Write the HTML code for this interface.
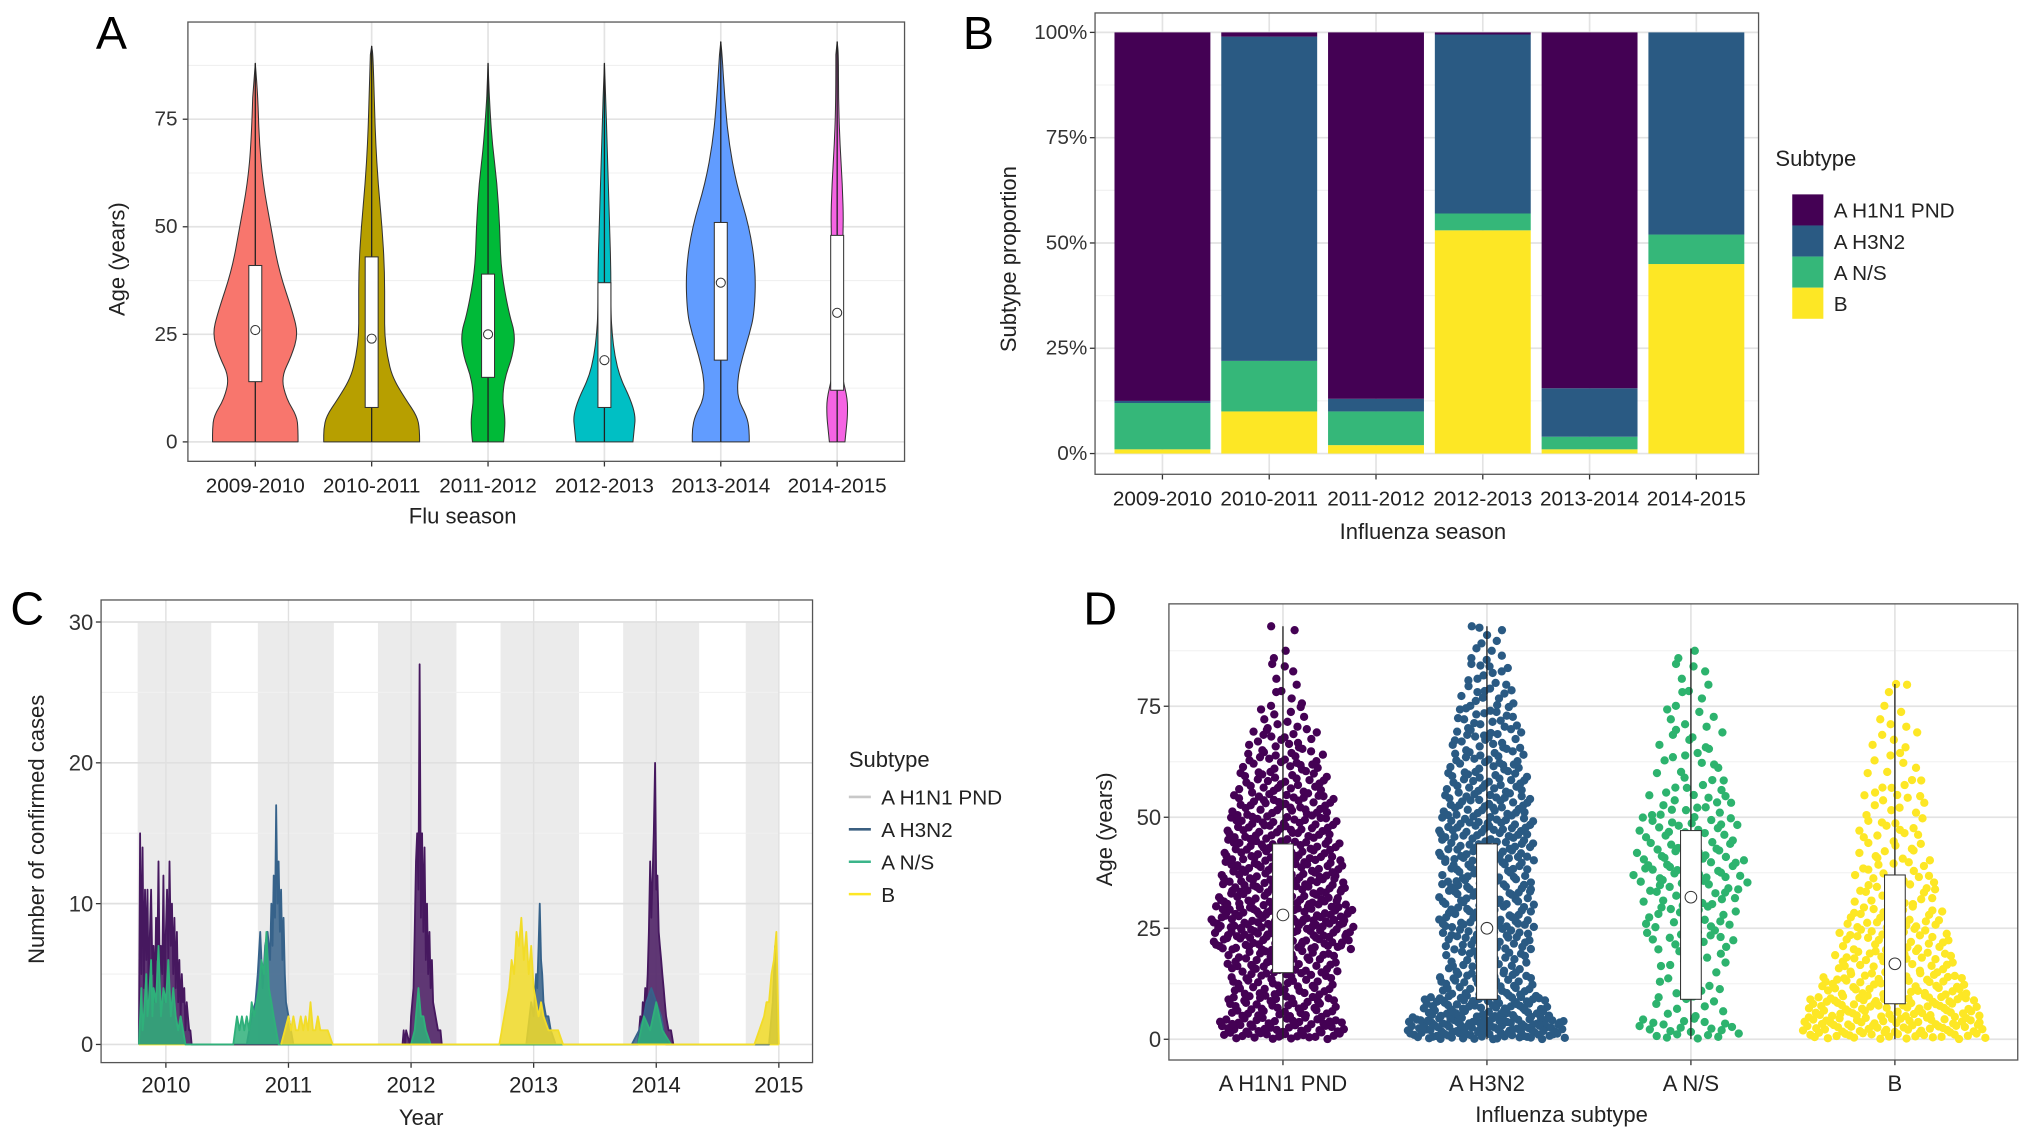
<!DOCTYPE html>
<html><head><meta charset="utf-8"><style>
html,body{margin:0;padding:0;background:#fff;}
svg{display:block;font-family:"Liberation Sans",Arial,sans-serif;}
</style></head><body>
<svg id="fig" width="2032" height="1141" viewBox="0 0 1568 880.5" preserveAspectRatio="none" xmlns="http://www.w3.org/2000/svg"></svg>
<script>
// ---------- Panel A data ----------
const seasonsA = ["2009-2010","2010-2011","2011-2012","2012-2013","2013-2014","2014-2015"];
const violinAges = [0,3,6,10,15,20,25,30,40,50,60,70,80,90];
const violinW1 = [33,33,32,24,20,28,33,29,18,12,6,3,2,0];
const violinW2 = [37,37,35,26,16,12,10,10,10,8,5,3,2,1];
const violinW3 = [12,13,13,11,13,19,21,16,10,9,7,3,1,0];
const violinW4 = [22,23,24,20,12,8,6,5,5,4,3,2,1,0];
const violinW5 = [22,22,20,13,13,17,22,26,27,22,12,6,3,1];
const violinW6 = [6,7,8,8,4,2,2,2,3,5,4,2,1,1];
const violinMax = [88,92,88,88,93,93];
const boxQ1A = [14,8,15,8,19,12];
const boxQ3A = [41,43,39,37,51,48];
const meanA = [26,24,25,19,37,30];
const colorsA = ["#F8766D","#B79F00","#00BA38","#00BFC4","#619CFF","#F564E3"];
const yTicksA = [0,25,50,75];

// ---------- Panel B data ----------
const seasonsB = ["2009-2010","2010-2011","2011-2012","2012-2013","2013-2014","2014-2015"];
const subtypes = ["A H1N1 PND","A H3N2","A N/S","B"];
const propB   = [0.01,0.10,0.02,0.53,0.01,0.45];
const propNS  = [0.11,0.12,0.08,0.04,0.03,0.07];
const propH3  = [0.005,0.77,0.03,0.425,0.115,0.48];
const propH1  = [0.875,0.01,0.87,0.005,0.845,0.0];
const yTicksB = ["0%","25%","50%","75%","100%"];
const subColors = ["#440154","#2A5A83","#35B779","#FDE725"];

// ---------- Panel C data ----------
const yearTicksC = [2010,2011,2012,2013,2014,2015];
const bandStart = [2009.77,2010.75,2011.73,2012.73,2013.73,2014.73];
const bandEnd   = [2010.37,2011.37,2012.37,2013.37,2014.35,2015.0];
const h1Dates = [2009.78,2009.79,2009.80,2009.81,2009.82,2009.83,2009.84,2009.85,2009.86,2009.87,2009.88,2009.89,2009.90,2009.91,2009.92,2009.93,2009.94,2009.95,2009.96,2009.97,2009.98,2009.99,2010.00,2010.01,2010.02,2010.03,2010.04,2010.05,2010.06,2010.07,2010.08,2010.09,2010.10,2010.11,2010.12,2010.13,2010.14,2010.15,2010.16,2010.17,2010.18,2010.19,2010.20,2010.21,
  2011.93,2011.94,2011.95,2011.96,2011.99,2012.00,2012.02,2012.03,2012.04,2012.05,2012.06,2012.07,2012.08,2012.09,2012.10,2012.11,2012.12,2012.13,2012.14,2012.15,2012.16,2012.17,2012.18,2012.20,2012.22,2012.24,2012.25,
  2013.85,2013.86,2013.87,2013.88,2013.89,2013.90,2013.91,2013.92,2013.93,2013.94,2013.95,2013.96,2013.97,2013.98,2013.99,2014.00,2014.01,2014.02,2014.03,2014.04,2014.05,2014.06,2014.07,2014.08,2014.10,2014.12,2014.14];
const h1Counts = [0,15,5,14,4,11,6,11,3,8,11,5,7,3,9,6,13,4,7,5,12,3,8,11,6,13,7,10,5,9,4,8,3,6,2,5,3,4,1,3,2,1,1,0,
  0,1,0,1,0,2,4,8,13,15,11,27,9,15,8,14,6,10,5,8,4,6,3,2,1,1,0,
  0,1,2,1,3,2,4,3,5,8,13,9,12,15,20,11,12,8,7,6,5,4,3,2,1,1,0];
const h3Dates = [2010.66,2010.70,2010.73,2010.75,2010.77,2010.79,2010.81,2010.83,2010.85,2010.86,2010.87,2010.88,2010.89,2010.90,2010.91,2010.92,2010.93,2010.94,2010.95,2010.96,2010.97,2010.98,2011.00,2011.02,2011.04,
  2012.94,2012.98,2013.00,2013.02,2013.03,2013.04,2013.05,2013.06,2013.07,2013.08,2013.10,2013.12,2013.14,2013.18,
  2013.80,2013.86,2013.90,2013.92,2013.96,2014.00,2014.04,2014.08,
  2014.92,2014.95,2014.97,2014.99];
const h3Counts = [0,2,3,5,8,4,7,8,6,10,7,12,9,17,10,13,8,11,6,9,5,3,2,1,0,
  0,3,2,5,4,7,10,6,5,3,2,2,1,0,
  0,1,2,3,4,3,2,0,
  0,3,7,0];
const nsDates = [2009.78,2009.80,2009.81,2009.82,2009.84,2009.85,2009.86,2009.88,2009.89,2009.90,2009.92,2009.94,2009.96,2009.98,2010.00,2010.02,2010.04,2010.06,2010.08,2010.10,2010.12,2010.16,
  2010.55,2010.58,2010.60,2010.62,2010.64,2010.66,2010.68,2010.70,2010.72,2010.74,2010.76,2010.78,2010.80,2010.82,2010.84,2010.86,2010.88,2010.92,
  2012.00,2012.03,2012.06,2012.08,2012.10,2012.12,2012.16,2013.85,2013.90,2013.95,2014.00,2014.05,2014.12];
const nsCounts = [0,4,1,2,5,2,3,6,2,4,3,7,2,4,3,6,2,4,2,1,2,0,
  0,2,1,2,1,2,1,3,2,3,4,6,5,8,4,3,2,0,
  0,1,4,2,2,1,0,0,2,1,3,1,0];
const bDates = [2010.94,2010.97,2011.00,2011.02,2011.04,2011.06,2011.08,2011.10,2011.12,2011.14,2011.16,2011.18,2011.20,2011.22,2011.24,2011.26,2011.28,2011.32,2011.36,
  2012.72,2012.76,2012.78,2012.80,2012.82,2012.84,2012.86,2012.88,2012.90,2012.92,2012.94,2012.96,2012.98,2013.00,2013.02,2013.04,2013.06,2013.08,2013.12,2013.16,2013.20,2013.24,
  2014.80,2014.84,2014.88,2014.90,2014.92,2014.94,2014.96,2014.98,2015.00];
const bCounts = [0,1,2,1,2,1,1,2,1,2,1,3,1,1,2,1,1,1,0,
  0,2,3,4,6,5,8,7,9,6,8,5,7,4,3,2,3,2,1,1,1,0,
  0,1,2,3,3,5,6,8,0];
const yTicksC = [0,10,20,30];

// ---------- Panel D data ----------
const subtypesD = ["A H1N1 PND","A H3N2","A N/S","B"];
const binsD = [0,5,10,15,20,25,30,35,40,45,50,55,60,65,70,75,80,85,90];
const countsH1 = [60,45,40,45,70,75,60,55,50,45,40,30,25,18,10,6,4,2,2];
const countsH3 = [110,70,40,30,35,40,40,35,40,40,35,30,25,22,18,14,10,7,4];
const countsNS = [22,10,8,10,15,18,20,25,22,20,15,10,8,8,6,5,4,2,0];
const countsB  = [80,70,50,35,30,25,18,15,12,12,10,8,6,5,4,3,1,0,0];
const q1D = [15,9,9,8], q3D = [44,44,47,37], meanD = [28,25,32,17], maxD = [93,93,88,80];
const yTicksD = [0,25,50,75];

const svg = document.getElementById('fig');
const NS = 'http://www.w3.org/2000/svg';
function mk(tag, attrs, parent, text){
  const e = document.createElementNS(NS, tag);
  for (const k in attrs) e.setAttribute(k, attrs[k]);
  if (text !== undefined) e.textContent = text;
  (parent||svg).appendChild(e);
  return e;
}
function grp(name){ const g = mk('g',{});   return g; }
function smoothPath(pts){
  let d='M'+pts[0][0].toFixed(1)+','+pts[0][1].toFixed(1);
  for(let i=1;i<pts.length-1;i++){
    const mx=(pts[i][0]+pts[i+1][0])/2, my=(pts[i][1]+pts[i+1][1])/2;
    d+='Q'+pts[i][0].toFixed(1)+','+pts[i][1].toFixed(1)+' '+mx.toFixed(1)+','+my.toFixed(1);
  }
  const l=pts[pts.length-1]; d+='L'+l[0].toFixed(1)+','+l[1].toFixed(1);
  return d;
}
function halton(i,b){let f=1,r=0;while(i>0){f/=b;r+=f*(i%b);i=Math.floor(i/b);}return r;}

// ================= Panel A =================
(function(){
  const g = grp('panel-a');
  const L=145,R=698,T=17,B=356;
  const y = v => 341 - v*(249/75);
  const xs = i => 197 + i*89.8;
  mk('rect',{x:L,y:T,width:R-L,height:B-T,fill:'#fff'},g);
  [12.5,37.5,62.5,87.5].forEach(v=>mk('line',{x1:L,x2:R,y1:y(v),y2:y(v),stroke:'#f0f0f0','stroke-width':0.8},g));
  yTicksA.forEach(v=>mk('line',{x1:L,x2:R,y1:y(v),y2:y(v),stroke:'#e3e3e3','stroke-width':1.3},g));
  seasonsA.forEach((s,i)=>mk('line',{x1:xs(i),x2:xs(i),y1:T,y2:B,stroke:'#e3e3e3','stroke-width':1.3},g));
  const widths=[violinW1,violinW2,violinW3,violinW4,violinW5,violinW6];
  seasonsA.forEach((s,i)=>{
    const cx=xs(i), w=widths[i], mx=violinMax[i];
    const ages=violinAges.map(a=>Math.min(a,mx));
    const right=[], left=[];
    for(let k=0;k<ages.length;k++){ if(ages[k]>=mx) break; right.push([cx+w[k], y(ages[k])]); }
    right.push([cx,y(mx)]);
    for(let k=right.length-2;k>=0;k--) left.push([2*cx-right[k][0], right[k][1]]);
    const d=smoothPath(right)+smoothPath(left).replace('M','L')+'Z';
    const v=mk('path',{d:d,fill:colorsA[i],stroke:'#333','stroke-width':0.8,'stroke-linejoin':'round'},g);
    
    
    mk('line',{x1:cx,x2:cx,y1:y(0),y2:y(mx),stroke:'#222','stroke-width':1},g);
    const b=mk('rect',{x:cx-5,y:y(boxQ3A[i]),width:10,height:y(boxQ1A[i])-y(boxQ3A[i]),fill:'#fff',stroke:'#333','stroke-width':0.8},g);
    
    
    mk('circle',{cx:cx,cy:y(meanA[i]),r:3.5,fill:'#fff',stroke:'#333','stroke-width':0.8},g);
    mk('line',{x1:cx,x2:cx,y1:B,y2:B+4,stroke:'#333'},g);
    const t=mk('text',{x:cx,y:380,'font-size':16,'text-anchor':'middle',fill:'#222'},g,s);
    
    
  });
  yTicksA.forEach(v=>{mk('line',{x1:L-4,x2:L,y1:y(v),y2:y(v),stroke:'#333'},g);
    mk('text',{x:L-8,y:y(v)+5,'font-size':16,'text-anchor':'end',fill:'#333'},g,String(v));});
  mk('rect',{x:L,y:T,width:R-L,height:B-T,fill:'none',stroke:'#555','stroke-width':1},g);
  const yt=mk('text',{x:0,y:0,'font-size':17,'text-anchor':'middle',fill:'#222',transform:'translate(96,200) rotate(-90)'},g,'Age (years)');
   
  const xt=mk('text',{x:357,y:404,'font-size':17,'text-anchor':'middle',fill:'#222'},g,'Flu season');
   
  mk('text',{x:74,y:38,'font-size':36,fill:'#000'},g,'A');
})();

// ================= Panel B =================
(function(){
  const g = grp('panel-b');
  const L=845,R=1357,T=10,B=366;
  const y = p => 350 - p*325;
  const xs = i => 897 + i*82.4;
  mk('rect',{x:L,y:T,width:R-L,height:B-T,fill:'#fff'},g);
  [0.125,0.375,0.625,0.875].forEach(v=>mk('line',{x1:L,x2:R,y1:y(v),y2:y(v),stroke:'#f0f0f0','stroke-width':0.8},g));
  [0,0.25,0.5,0.75,1].forEach(v=>mk('line',{x1:L,x2:R,y1:y(v),y2:y(v),stroke:'#e3e3e3','stroke-width':1.3},g));
  seasonsB.forEach((s,i)=>mk('line',{x1:xs(i),x2:xs(i),y1:T,y2:B,stroke:'#e3e3e3','stroke-width':1.3},g));
  const layers=[propB,propNS,propH3,propH1];
  const lcol=[subColors[3],subColors[2],subColors[1],subColors[0]];
  const lname=['b','a-ns','a-h3n2','a-h1n1'];
  seasonsB.forEach((s,i)=>{
    let acc=0;
    const tot=propB[i]+propNS[i]+propH3[i]+propH1[i];
    layers.forEach((arr,k)=>{
      const v=arr[i]/tot;
      const r=mk('rect',{x:xs(i)-37,y:y(acc+v),width:74,height:v*325,fill:lcol[k]},g);
      
      
      acc+=v;
    });
    mk('line',{x1:xs(i),x2:xs(i),y1:B,y2:B+4,stroke:'#333'},g);
    mk('text',{x:xs(i),y:390,'font-size':16,'text-anchor':'middle',fill:'#222'},g,s);
  });
  yTicksB.forEach((lab,k)=>{const v=k*0.25;
    mk('line',{x1:L-4,x2:L,y1:y(v),y2:y(v),stroke:'#333'},g);
    mk('text',{x:L-6,y:y(v)+5,'font-size':16,'text-anchor':'end',fill:'#333'},g,lab);});
  mk('rect',{x:L,y:T,width:R-L,height:B-T,fill:'none',stroke:'#555','stroke-width':1},g);
  mk('text',{x:0,y:0,'font-size':17,'text-anchor':'middle',fill:'#222',transform:'translate(784,200) rotate(-90)'},g,'Subtype proportion');
  mk('text',{x:1098,y:416,'font-size':17,'text-anchor':'middle',fill:'#222'},g,'Influenza season');
  mk('text',{x:1370,y:128,'font-size':17,fill:'#222'},g,'Subtype');
  subtypes.forEach((s,k)=>{
    const e=mk('g',{},g);  
    mk('rect',{x:1383,y:150+k*24,width:24,height:24,fill:subColors[k]},e);
    mk('text',{x:1415,y:168+k*24,'font-size':16,fill:'#222'},e,s);
  });
  mk('text',{x:743,y:38,'font-size':36,fill:'#000'},g,'B');
})();

// ================= Panel C =================
(function(){
  const g = grp('panel-c');
  const L=78,R=627,T=463,B=820;
  const x = d => 128 + (d-2010)*94.6;
  const y = v => 806 - v*(326/30);
  mk('rect',{x:L,y:T,width:R-L,height:B-T,fill:'#fff'},g);
  bandStart.forEach((s,i)=>{const r=mk('rect',{x:x(s),y:y(30),width:x(bandEnd[i])-x(s),height:y(0)-y(30),fill:'#ebebeb'},g);
     });
  [5,15,25].forEach(v=>mk('line',{x1:L,x2:R,y1:y(v),y2:y(v),stroke:'#f0f0f0','stroke-width':0.8},g));
  yTicksC.forEach(v=>mk('line',{x1:L,x2:R,y1:y(v),y2:y(v),stroke:'#e0e0e0','stroke-width':1.3},g));
  yearTicksC.forEach(v=>mk('line',{x1:x(v),x2:x(v),y1:T,y2:B,stroke:'#e0e0e0','stroke-width':1.1},g));
  mk('line',{x1:x(2009.78),x2:x(2015.0),y1:y(0),y2:y(0),stroke:'#FDE725','stroke-width':1.5},g);
  const series=[[h1Dates,h1Counts,'#46185f','line-a-h1n1'],[h3Dates,h3Counts,'#36628a','line-a-h3n2'],[nsDates,nsCounts,'#2FB07A','line-a-ns'],[bDates,bCounts,'#F2DC28','line-b']];
  series.forEach(([ds,cs,col,nm])=>{
    const pts=ds.map((d,i)=>x(d).toFixed(1)+','+y(cs[i]).toFixed(1)).join(' ');
    const p=mk('polyline',{points:pts,fill:col,'fill-opacity':0.85,stroke:col,'stroke-width':1.4,'stroke-linejoin':'round'},g);
     
  });
  yTicksC.forEach(v=>{mk('line',{x1:L-4,x2:L,y1:y(v),y2:y(v),stroke:'#333'},g);
    mk('text',{x:L-6,y:y(v)+6,'font-size':17,'text-anchor':'end',fill:'#333'},g,String(v));});
  yearTicksC.forEach(v=>{mk('line',{x1:x(v),x2:x(v),y1:B,y2:B+4,stroke:'#333'},g);
    mk('text',{x:x(v),y:843,'font-size':17,'text-anchor':'middle',fill:'#222'},g,String(v));});
  mk('rect',{x:L,y:T,width:R-L,height:B-T,fill:'none',stroke:'#555','stroke-width':1},g);
  mk('text',{x:0,y:0,'font-size':17,'text-anchor':'middle',fill:'#222',transform:'translate(34,640) rotate(-90)'},g,'Number of confirmed cases');
  mk('text',{x:325,y:868,'font-size':17,'text-anchor':'middle',fill:'#222'},g,'Year');
  mk('text',{x:655,y:592,'font-size':17,fill:'#222'},g,'Subtype');
  const lc=['#c8c8c8','#3b5f80','#3bb58a','#FDE725'];
  subtypes.forEach((s,k)=>{
    const e=mk('g',{},g);  
    mk('line',{x1:655,x2:672,y1:615+k*25,y2:615+k*25,stroke:lc[k],'stroke-width':2},e);
    mk('text',{x:680,y:621+k*25,'font-size':16,fill:'#222'},e,s);
  });
  mk('text',{x:8,y:482,'font-size':36,fill:'#000'},g,'C');
})();

// ================= Panel D =================
(function(){
  const g = grp('panel-d');
  const L=902,R=1557,T=466,B=818;
  const y = v => 802 - v*(257/75);
  const xs = i => 990 + i*157.4;
  mk('rect',{x:L,y:T,width:R-L,height:B-T,fill:'#fff'},g);
  [12.5,37.5,62.5,87.5].forEach(v=>mk('line',{x1:L,x2:R,y1:y(v),y2:y(v),stroke:'#f0f0f0','stroke-width':0.8},g));
  yTicksD.forEach(v=>mk('line',{x1:L,x2:R,y1:y(v),y2:y(v),stroke:'#e3e3e3','stroke-width':1.3},g));
  subtypesD.forEach((s,i)=>mk('line',{x1:xs(i),x2:xs(i),y1:T,y2:B,stroke:'#e3e3e3','stroke-width':1.3},g));
  const cols=["#440154","#2A5A83","#2DB36E","#FDE725"];
  const allCounts=[countsH1,countsH3,countsNS,countsB];
  const maxW=[56,62,45,72];
  subtypesD.forEach((s,i)=>{
    const cx=xs(i), cnt=allCounts[i];
    const cmax=Math.max.apply(null,cnt);
    const pg=mk('g',{fill:cols[i]},g);
     
    let seq=0;
    cnt.forEach((c,b)=>{
      const hw=Math.max(6,maxW[i]*Math.sqrt(c/cmax));
      for(let k=1;k<=c;k++){
        seq++;
        const fx=halton(k+b*7,2)*2-1;
        const fy=halton(k+b*7,3);
        const age=Math.min(binsD[b]+fy*5,maxD[i]);
        mk('circle',{cx:(cx+fx*hw).toFixed(1),cy:y(age).toFixed(1),r:3.2},pg);
      }
    });
    mk('line',{x1:cx,x2:cx,y1:y(0),y2:y(maxD[i]),stroke:'#222','stroke-width':1},g);
    const b=mk('rect',{x:cx-8,y:y(q3D[i]),width:16,height:y(q1D[i])-y(q3D[i]),fill:'#fff',stroke:'#333','stroke-width':0.8},g);
     
    mk('circle',{cx:cx,cy:y(meanD[i]),r:4.5,fill:'#fff',stroke:'#333','stroke-width':0.8},g);
    mk('line',{x1:cx,x2:cx,y1:B,y2:B+4,stroke:'#333'},g);
    mk('text',{x:cx,y:842,'font-size':17,'text-anchor':'middle',fill:'#222'},g,s);
  });
  yTicksD.forEach(v=>{mk('line',{x1:L-4,x2:L,y1:y(v),y2:y(v),stroke:'#333'},g);
    mk('text',{x:L-6,y:y(v)+6,'font-size':17,'text-anchor':'end',fill:'#333'},g,String(v));});
  mk('rect',{x:L,y:T,width:R-L,height:B-T,fill:'none',stroke:'#555','stroke-width':1},g);
  mk('text',{x:0,y:0,'font-size':17,'text-anchor':'middle',fill:'#222',transform:'translate(858,640) rotate(-90)'},g,'Age (years)');
  mk('text',{x:1205,y:866,'font-size':17,'text-anchor':'middle',fill:'#222'},g,'Influenza subtype');
  mk('text',{x:836,y:482,'font-size':36,fill:'#000'},g,'D');
})();
</script>
</body></html>
